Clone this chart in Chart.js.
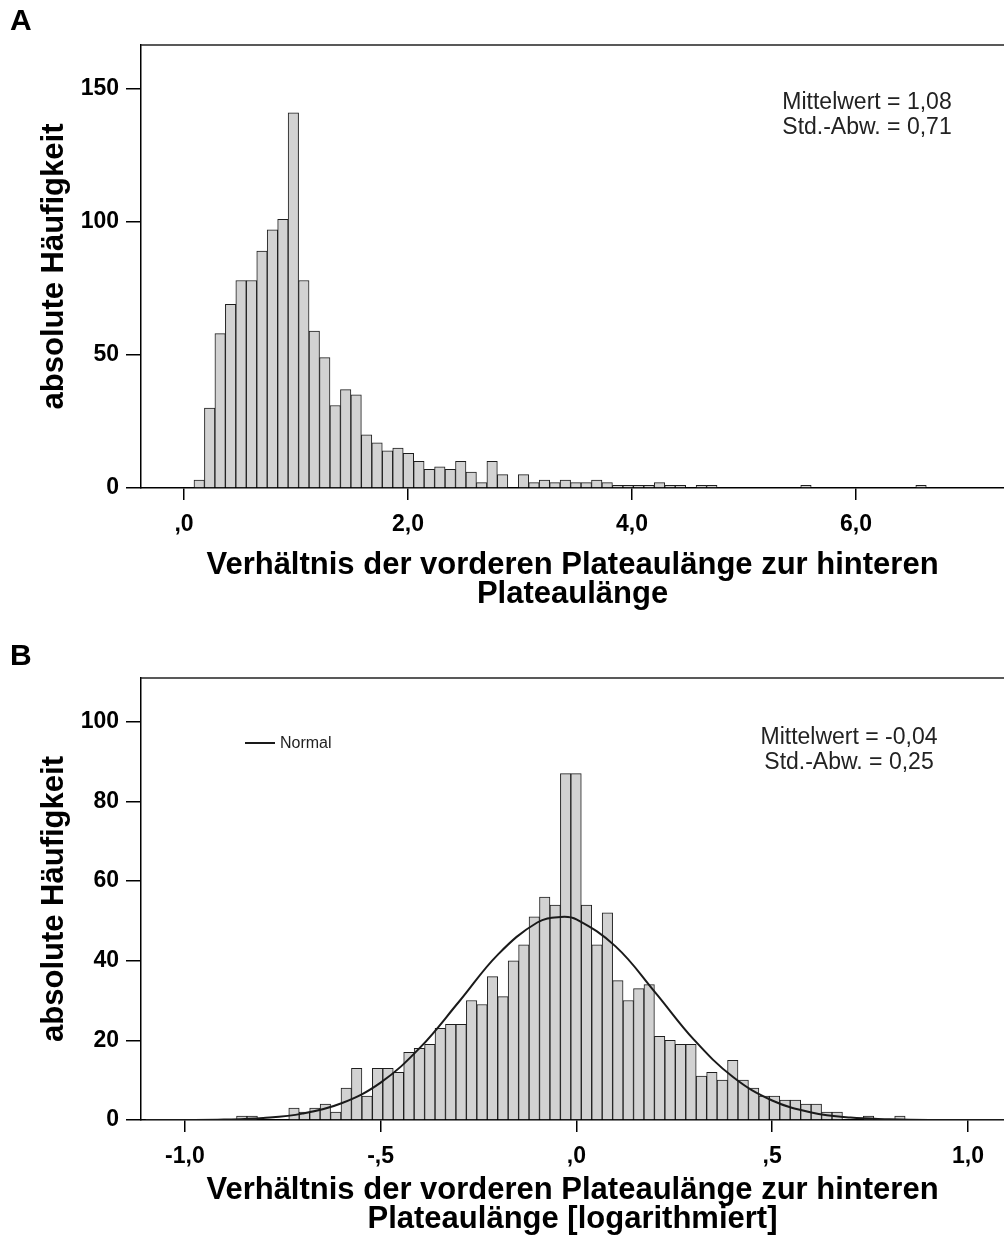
<!DOCTYPE html>
<html>
<head>
<meta charset="utf-8">
<script src="https://cdn.jsdelivr.net/npm/chart.js@4.4.1/dist/chart.umd.min.js"></script>
<style>
  body { margin: 0; background: #fff; overflow: hidden; }
  .panel { position: absolute; left: 0; width: 1004px; }
  #panelA { top: 0; height: 640px; }
  #panelB { top: 640px; height: 605px; }
</style>
</head>
<body>
<div class="panel" id="panelA"><canvas id="chartA" width="1004" height="640"></canvas></div>
<div class="panel" id="panelB"><canvas id="chartB" width="1004" height="605"></canvas></div>
<script>
// panel A - plain ratio, bins start at 0.089
const binStartA = 0.089;
const binWidthA = 0.0934;
const countsA = [
  3, 30, 58, 69, 78, 78, 89, 97, 101, 141,
  78, 59, 49, 31, 37, 35, 20, 17, 14, 15,
  13, 10, 7, 8, 7, 10, 6, 2, 10, 5,
  0, 5, 2, 3, 2, 3, 2, 2, 3, 2,
  1, 1, 1, 1, 2, 1, 1, 0, 1, 1,
  0, 0, 0, 0, 0, 0, 0, 0, 1, 0,
  0, 0, 0, 0, 0, 0, 0, 0, 0, 1
];
const xTicksA = [0, 2, 4, 6];
const xTickLabelsA = [',0', '2,0', '4,0', '6,0'];
const yTicksA = [0, 50, 100, 150];

// panel B - log ratio
const binStartB = -0.868;
const binWidthB = 0.02668;
const countsB = [
  1, 1, 0, 0, 0, 3, 2, 3, 4, 2,
  8, 13, 6, 13, 13, 12, 17, 18, 19, 23,
  24, 24, 30, 29, 36, 31, 40, 44, 51, 56,
  54, 87, 87, 54, 44, 52, 35, 30, 33, 34,
  21, 20, 19, 19, 11, 12, 10, 15, 10, 8,
  6, 6, 5, 5, 4, 4, 2, 2, 0, 0,
  1, 0, 0, 1
];
const xTicksB = [-1, -0.5, 0, 0.5, 1];
const xTickLabelsB = ['-1,0', '-,5', ',0', ',5', '1,0'];
const yTicksB = [0, 20, 40, 60, 80, 100];

// normal curve
const normalX = [-1.1, -1.0, -0.9, -0.8, -0.7, -0.6, -0.5, -0.4, -0.3, -0.2, -0.1, -0.04,
  0.0, 0.1, 0.2, 0.3, 0.4, 0.5, 0.6, 0.7, 0.8, 0.9, 1.0, 1.1];
const normalY = [0, 0, 0.1, 0.5, 1.6, 4.2, 9.4, 18.1, 29.7, 41.6, 49.6, 51,
  50.4, 43.6, 32.2, 20.2, 10.8, 4.9, 1.9, 0.6, 0.2, 0, 0, 0];

const FONT = '"Liberation Sans", Arial, sans-serif';
const xTitleLine1 = 'Verhältnis der vorderen Plateaulänge zur hinteren';

function bins(start, width, counts) {
  return counts.map((c, i) => ({ x: start + (i + 0.5) * width, y: c }));
}

const extras = {
  id: 'extras',
  afterDraw(chart, args, opts) {
    const ctx = chart.ctx;
    const area = chart.chartArea;
    ctx.save();
    // top frame line (right side is cut off)
    ctx.strokeStyle = '#222';
    ctx.lineWidth = 1.5;
    ctx.beginPath();
    ctx.moveTo(area.left, area.top);
    ctx.lineTo(chart.width, area.top);
    ctx.stroke();

    ctx.fillStyle = '#000';
    ctx.font = 'bold 30px ' + FONT;
    ctx.textAlign = 'left';
    ctx.textBaseline = 'alphabetic';
    ctx.fillText(opts.letter, 10, opts.letterY);

    ctx.font = '23px ' + FONT;
    ctx.fillStyle = '#222';
    ctx.textAlign = 'center';
    ctx.textBaseline = 'middle';
    opts.stats.forEach((s, i) => ctx.fillText(s, opts.statsX, opts.statsY + i * 25));

    ctx.fillStyle = '#000';
    ctx.font = 'bold 31px ' + FONT;
    const cx = (area.left + area.right) / 2;
    opts.xTitle.forEach((s, i) => ctx.fillText(s, cx, opts.xTitleY + i * 29));

    if (opts.legend) {
      ctx.strokeStyle = '#1a1a1a';
      ctx.lineWidth = 2;
      ctx.beginPath();
      ctx.moveTo(245, opts.legendY);
      ctx.lineTo(275, opts.legendY);
      ctx.stroke();
      ctx.font = '16px ' + FONT;
      ctx.fillStyle = '#222';
      ctx.textAlign = 'left';
      ctx.fillText(opts.legend, 280, opts.legendY + 1);
    }
    ctx.restore();
  }
};

function axisX(min, max, ticks, labels, height) {
  return {
    type: 'linear', min: min, max: max, offset: false,
    afterBuildTicks: s => { s.ticks = ticks.map(v => ({ value: v })); },
    afterFit: s => { s.height = height; },
    grid: { offset: false, drawOnChartArea: false, drawTicks: true, tickLength: 12, color: '#000', lineWidth: 1.5 },
    border: { display: true, color: '#000', width: 1.5 },
    ticks: {
      color: '#000', padding: 11, autoSkip: false, maxRotation: 0,
      font: { family: FONT, size: 23, weight: 'bold' },
      callback: (v, i) => labels[i]
    }
  };
}

function axisY(max, ticks) {
  return {
    min: 0, max: max,
    afterBuildTicks: s => { s.ticks = ticks.map(v => ({ value: v })); },
    afterFit: s => { s.width = 141; },
    grid: { offset: false, drawOnChartArea: false, drawTicks: true, tickLength: 15, color: '#000', lineWidth: 1.5 },
    border: { display: true, color: '#000', width: 1.5 },
    ticks: {
      color: '#000', padding: 7,
      font: { family: FONT, size: 23, weight: 'bold' },
      callback: v => String(v)
    },
    title: {
      display: true, text: 'absolute Häufigkeit', color: '#000',
      font: { family: FONT, size: 31, weight: 'bold' },
      padding: { top: 36, bottom: 0 }
    }
  };
}

const barStyle = {
  type: 'bar',
  backgroundColor: '#d2d2d2',
  borderColor: '#1e1e1e',
  borderWidth: 1,
  barPercentage: 1,
  categoryPercentage: 1
};

const chartA = new Chart(document.getElementById('chartA'), {
  type: 'bar',
  data: {
    datasets: [Object.assign({ data: bins(binStartA, binWidthA, countsA) }, barStyle)]
  },
  options: {
    responsive: false,
    animation: false,
    devicePixelRatio: 1,
    layout: { padding: { top: 45, left: 0, right: 0, bottom: 0 } },
    plugins: {
      legend: { display: false },
      tooltip: { enabled: false },
      extras: {
        letter: 'A', letterY: 30,
        stats: ['Mittelwert = 1,08', 'Std.-Abw. = 0,71'], statsX: 867, statsY: 103,
        xTitle: [xTitleLine1, 'Plateaulänge'], xTitleY: 565
      }
    },
    scales: {
      x: axisX(-0.384, 7.321, xTicksA, xTickLabelsA, 640 - 488),
      y: axisY(166.5, yTicksA)
    }
  },
  plugins: [extras]
});

const chartB = new Chart(document.getElementById('chartB'), {
  type: 'bar',
  data: {
    datasets: [
      {
        type: 'line',
        label: 'Normal',
        data: normalX.map((x, i) => ({ x: x, y: normalY[i] })),
        borderColor: '#1a1a1a',
        borderWidth: 2,
        pointRadius: 0,
        tension: 0.4,
        fill: false
      },
      Object.assign({ data: bins(binStartB, binWidthB, countsB) }, barStyle)
    ]
  },
  options: {
    responsive: false,
    animation: false,
    devicePixelRatio: 1,
    layout: { padding: { top: 38, left: 0, right: 0, bottom: 0 } },
    plugins: {
      legend: { display: false },
      tooltip: { enabled: false },
      extras: {
        letter: 'B', letterY: 25,
        stats: ['Mittelwert = -0,04', 'Std.-Abw. = 0,25'], statsX: 849, statsY: 98,
        xTitle: [xTitleLine1, 'Plateaulänge [logarithmiert]'], xTitleY: 550,
        legend: 'Normal', legendY: 103
      }
    },
    scales: {
      x: axisX(-1.112, 1.092, xTicksB, xTickLabelsB, 605 - 480),
      y: axisY(111, yTicksB)
    }
  },
  plugins: [extras]
});
</script>
</body>
</html>
